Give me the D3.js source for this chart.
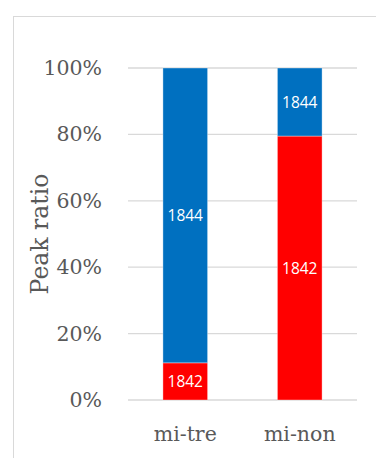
<!DOCTYPE html>
<html>
<head>
<meta charset="utf-8">
<script src="https://cdn.jsdelivr.net/npm/d3@7"></script>
<style>
  body { margin: 0; background: #fff; }
</style>
</head>
<body>
<script>
// data
const categories = ['mi-tre', 'mi-non'];
const seriesKeys = ['1842', '1844'];
const ratio1842 = [0.112, 0.795];
const ratio1844 = [0.888, 0.205];
const yTicks = [0, 0.2, 0.4, 0.6, 0.8, 1.0];
const colors = { '1842': '#ff0000', '1844': '#0070c0' };

const data = categories.map((c, i) => ({ cat: c, '1842': ratio1842[i], '1844': ratio1844[i] }));

const W = 376, H = 458;
const margin = { top: 68, right: 19, bottom: 58, left: 128 };
const width = W - margin.left - margin.right;
const height = H - margin.top - margin.bottom;

const svg = d3.select('body').append('svg')
	.attr('width', W)
	.attr('height', H);

// chart border
svg.append('rect')
	.attr('x', 13.5).attr('y', 16.5)
	.attr('width', 400).attr('height', 500)
	.attr('fill', 'none')
	.attr('stroke', '#d9d9d9');

const g = svg.append('g')
	.attr('transform', `translate(${margin.left},${margin.top})`);

const xScale = d3.scaleBand()
	.domain(categories)
	.range([0, width])
	.paddingInner(0.61)
	.paddingOuter(0.305);

const yScale = d3.scaleLinear()
	.domain([0, 1])
	.range([height, 0]);

// gridlines
g.selectAll('line.grid')
	.data(yTicks)
	.join('line')
	.attr('class', 'grid')
	.attr('x1', 0).attr('x2', width)
	.attr('y1', d => yScale(d)).attr('y2', d => yScale(d))
	.attr('stroke', '#d9d9d9')
	.attr('stroke-width', 1.3);

// y axis labels
const yAxis = g.append('g')
	.call(d3.axisLeft(yScale).tickValues(yTicks).tickFormat(d3.format('.0%')).tickSize(0).tickPadding(26));
yAxis.select('.domain').remove();
yAxis.selectAll('text')
	.attr('font-family', 'DejaVu Serif')
	.attr('font-size', 20.5)
	.attr('fill', '#595959');

// stacked bars
const stacked = d3.stack().keys(seriesKeys)(data);

const layers = g.selectAll('g.layer')
	.data(stacked)
	.join('g')
	.attr('class', 'layer')
	.attr('fill', d => colors[d.key]);

layers.selectAll('rect')
	.data(d => d)
	.join('rect')
	.attr('x', d => xScale(d.data.cat))
	.attr('width', xScale.bandwidth())
	.attr('y', d => yScale(d[1]))
	.attr('height', d => yScale(d[0]) - yScale(d[1]))
	.attr('stroke', 'rgba(255,255,255,0.35)')
	.attr('stroke-width', 1);

// data labels
layers.each(function(layer) {
	d3.select(this).selectAll('text')
		.data(layer)
		.join('text')
		.attr('x', d => xScale(d.data.cat) + xScale.bandwidth() / 2)
		.attr('y', d => (yScale(d[0]) + yScale(d[1])) / 2)
		.attr('dy', '0.36em')
		.attr('text-anchor', 'middle')
		.attr('font-family', 'Open Sans')
		.attr('font-size', 15.5)
		.attr('fill', '#fff')
		.text(layer.key);
});

// x axis labels
const xAxis = g.append('g')
	.attr('transform', `translate(0,${height})`)
	.call(d3.axisBottom(xScale).tickSize(0).tickPadding(26));
xAxis.select('.domain').remove();
xAxis.selectAll('text')
	.attr('font-family', 'DejaVu Serif')
	.attr('font-size', 20.5)
	.attr('fill', '#595959');

// axis title
svg.append('text')
	.attr('transform', `translate(48,${margin.top + height / 2}) rotate(-90)`)
	.attr('text-anchor', 'middle')
	.attr('font-family', 'DejaVu Serif')
	.attr('font-size', 23.5)
	.attr('fill', '#595959')
	.text('Peak ratio');
</script>
</body>
</html>
